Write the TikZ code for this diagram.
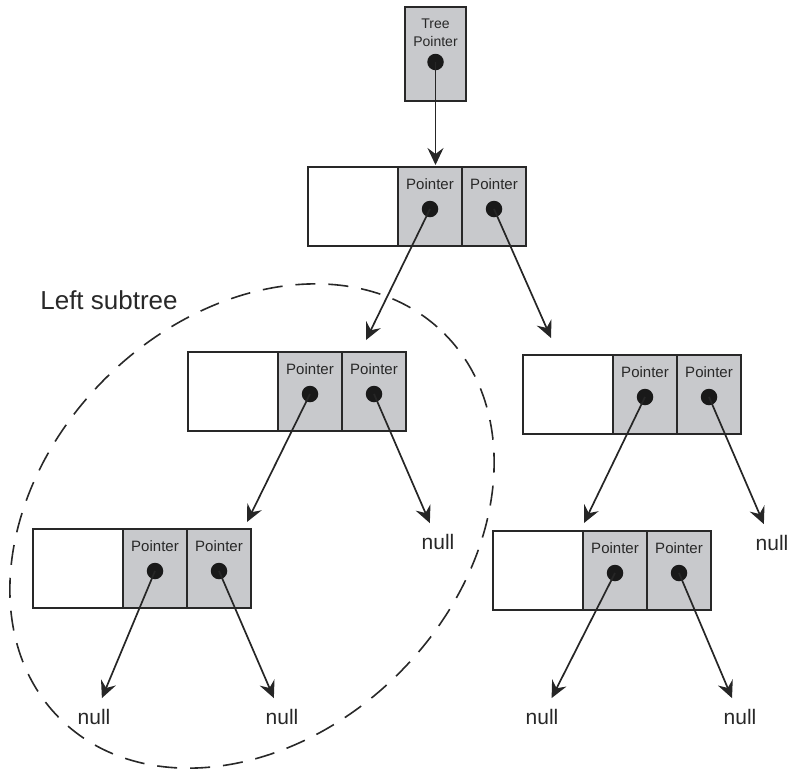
\documentclass[tikz,border=0pt]{standalone}
\usepackage{fontspec}
\setmainfont{Liberation Sans}
\usetikzlibrary{positioning, arrows.meta}
\definecolor{cellgray}{RGB}{200,201,204}
\definecolor{inkgray}{RGB}{40,40,40}

\begin{document}
\begin{tikzpicture}[x=1pt, y=-1pt,
  cell/.style={
    draw=inkgray, line width=1.8pt,
    minimum height=79pt, outer sep=0pt, inner sep=0pt
  },
  datacell/.style={cell, fill=white, minimum width=90pt},
  ptrcell/.style={cell, fill=cellgray, minimum width=64pt,
    label={[ptrtext]north:Pointer}},
  ptrtext/.style={anchor=north, inner sep=0pt, yshift=-11pt,
    text=inkgray, font=\fontsize{15}{18}\selectfont},
  tptext/.style={anchor=north, inner sep=0pt, yshift=-12pt, align=center,
    text=inkgray, font=\fontsize{14}{18}\selectfont},
  dotc/.style={circle, fill=black!90, inner sep=0pt, minimum size=16.5pt},
  ptr/.style={-{Stealth[length=17pt, width=16pt, inset=6pt]},
    line width=1.7pt, draw=black!85},
  nullnode/.style={inner sep=11pt, text=inkgray,
    font=\fontsize{21}{24}\selectfont},
  subtree/.style={dash pattern=on 20pt off 13pt, line width=1.6pt, draw=inkgray},
]
  \useasboundingbox (0,0) rectangle (791,772);

  % dashed outline round the left subtree
  \draw[subtree, shift={(252,526)}, rotate=45] (0,0) ellipse (272 and 208);
  \node[text=inkgray, font=\fontsize{26}{30}\selectfont] (lst) at (109,300.5) {Left subtree};

  % tree pointer
  \node[cell, fill=cellgray, minimum width=61pt, minimum height=94pt,
    anchor=north west, label={[tptext]north:Tree\\Pointer}] (tp) at (405,7) {};
  \node[dotc] (tpd) at ([yshift=-8pt]tp.center) {};

  % list nodes: data field + two pointer fields
  \foreach \n/\x/\y in {root/308/167, L/188/352, R/523/355, LL/33/529, RL/493/531} {
    \node[datacell, anchor=north west] (\n0) at (\x,\y) {};
    \node[ptrcell, right=0pt of \n0] (\n1) {};
    \node[ptrcell, right=0pt of \n1] (\n2) {};
    \node[dotc] (\n-d1) at ([yshift=-2.5pt]\n1.center) {};
    \node[dotc] (\n-d2) at ([yshift=-2.5pt]\n2.center) {};
  }

  \node[nullnode] (nL) at (438,542) {null};
  \node[nullnode] (nR) at (772,543) {null};
  \node[nullnode] (nLL1) at (94,717) {null};
  \node[nullnode] (nLL2) at (282,717) {null};
  \node[nullnode] (nRL1) at (542,717) {null};
  \node[nullnode] (nRL2) at (740,717) {null};

  % links
  \draw[ptr, shorten >=2pt] (tpd.center) -- (tpd.center |- root1.north);
  \draw[ptr] (root-d1.center) -- ([xshift=-8pt, yshift=12pt]L2.north);
  \draw[ptr] (root-d2.center) -- ([xshift=-17pt, yshift=17pt]R0.north);
  \draw[ptr] (L-d1.center) -- ([xshift=-4pt, yshift=7pt]LL2.north east);
  \draw[ptr] (L-d2.center) -- (nL);
  \draw[ptr] (R-d1.center) -- ([xshift=1pt, yshift=8pt]RL1.north west);
  \draw[ptr] (R-d2.center) -- (nR);
  \draw[ptr] (LL-d1.center) -- (nLL1);
  \draw[ptr] (LL-d2.center) -- (nLL2);
  \draw[ptr] (RL-d1.center) -- (nRL1);
  \draw[ptr] (RL-d2.center) -- (nRL2);
\end{tikzpicture}
\end{document}
